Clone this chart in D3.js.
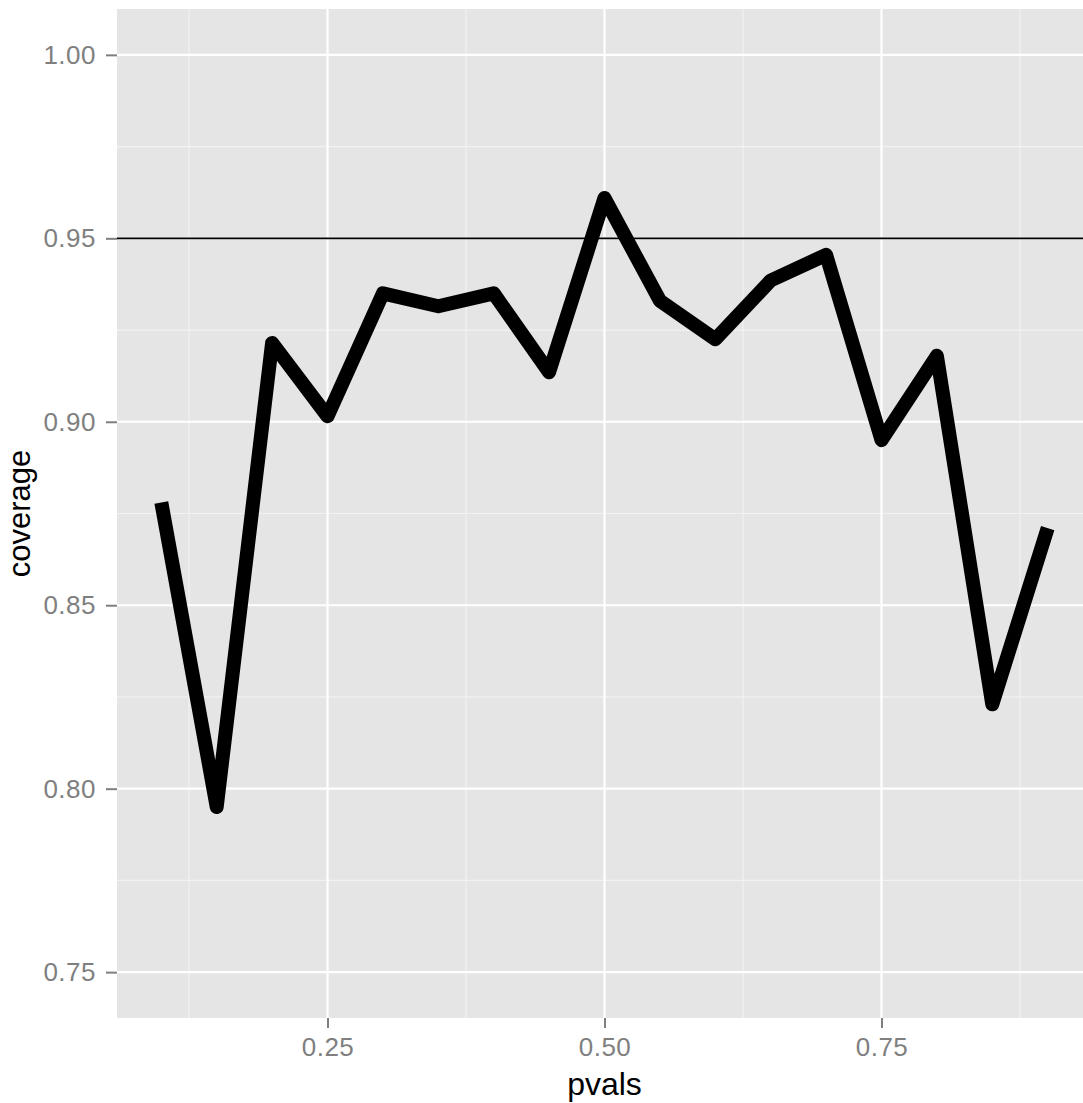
<!DOCTYPE html>
<html>
<head>
<meta charset="utf-8">
<script src="https://cdnjs.cloudflare.com/ajax/libs/d3/7.8.5/d3.min.js"></script>
<style>
  html, body { margin: 0; padding: 0; background: #ffffff; }
  svg { display: block; }
</style>
</head>
<body>
<script>
// ---- data ----
const pvals = [0.10, 0.15, 0.20, 0.25, 0.30, 0.35, 0.40, 0.45, 0.50, 0.55, 0.60, 0.65, 0.70, 0.75, 0.80, 0.85, 0.90];
const coverage = [0.878, 0.795, 0.9215, 0.9015, 0.935, 0.9315, 0.935, 0.9135, 0.961, 0.933, 0.9225, 0.9385, 0.9455, 0.895, 0.918, 0.823, 0.871];
const refLine = 0.95;
const xTicks = [0.25, 0.50, 0.75];
const xMinor = [0.125, 0.375, 0.625, 0.875];
const yTicks = [0.75, 0.80, 0.85, 0.90, 0.95, 1.00];
const yMinor = [0.775, 0.825, 0.875, 0.925, 0.975];
const xLabel = "pvals";
const yLabel = "coverage";

const W = 1083, H = 1103;
const panel = { left: 117, right: 1092, top: 9, bottom: 1018 };

const x = d3.scaleLinear().domain([0.06, 0.94]).range([panel.left, panel.right]);
const y = d3.scaleLinear().domain([0.7375, 1.0125]).range([panel.bottom, panel.top]);

const svg = d3.select("body").append("svg")
  .attr("width", W).attr("height", H);

// panel background
svg.append("rect")
  .attr("x", panel.left).attr("y", panel.top)
  .attr("width", panel.right - panel.left).attr("height", panel.bottom - panel.top)
  .attr("fill", "#E5E5E5");

const grid = svg.append("g");
// minor grid
grid.selectAll("line.xminor").data(xMinor).enter().append("line")
  .attr("x1", d => x(d)).attr("x2", d => x(d))
  .attr("y1", panel.top).attr("y2", panel.bottom)
  .attr("stroke", "#F2F2F2").attr("stroke-width", 1.2);
grid.selectAll("line.yminor").data(yMinor).enter().append("line")
  .attr("y1", d => y(d)).attr("y2", d => y(d))
  .attr("x1", panel.left).attr("x2", panel.right)
  .attr("stroke", "#F2F2F2").attr("stroke-width", 1.2);
// major grid
grid.selectAll("line.xmajor").data(xTicks).enter().append("line")
  .attr("x1", d => x(d)).attr("x2", d => x(d))
  .attr("y1", panel.top).attr("y2", panel.bottom)
  .attr("stroke", "#FFFFFF").attr("stroke-width", 2.2);
grid.selectAll("line.ymajor").data(yTicks).enter().append("line")
  .attr("y1", d => y(d)).attr("y2", d => y(d))
  .attr("x1", panel.left).attr("x2", panel.right)
  .attr("stroke", "#FFFFFF").attr("stroke-width", 2.2);

// reference line
svg.append("line")
  .attr("x1", panel.left).attr("x2", panel.right)
  .attr("y1", y(refLine)).attr("y2", y(refLine))
  .attr("stroke", "#000000").attr("stroke-width", 1.8);

// data line
const data = pvals.map((p, i) => ({ p, c: coverage[i] }));
svg.append("path")
  .datum(data)
  .attr("fill", "none")
  .attr("stroke", "#000000")
  .attr("stroke-width", 14)
  .attr("stroke-linejoin", "round")
  .attr("stroke-linecap", "butt")
  .attr("d", d3.line().x(d => x(d.p)).y(d => y(d.c)));

// axes
const fmt = d3.format(".2f");
const xAxis = d3.axisBottom(x).tickValues(xTicks).tickFormat(fmt).tickSize(10).tickPadding(5);
const yAxis = d3.axisLeft(y).tickValues(yTicks).tickFormat(fmt).tickSize(11).tickPadding(10);

const gx = svg.append("g").attr("transform", `translate(0,${panel.bottom})`).call(xAxis);
const gy = svg.append("g").attr("transform", `translate(${panel.left},0)`).call(yAxis);
[gx, gy].forEach(g => {
  g.select(".domain").remove();
  g.selectAll(".tick line").attr("stroke", "#7F7F7F").attr("stroke-width", 2);
  g.selectAll(".tick text")
    .attr("fill", "#7F7F7F")
    .style("font-family", "Arial, 'Liberation Sans', sans-serif")
    .style("font-size", "26px")
    .style("letter-spacing", "0.5px");
});
gx.selectAll(".tick text").attr("dy", "0.9em");

// axis titles
svg.append("text")
  .attr("x", (panel.left + panel.right) / 2)
  .attr("y", 1095)
  .attr("text-anchor", "middle")
  .style("font-family", "Arial, 'Liberation Sans', sans-serif")
  .style("font-size", "32px")
  .attr("fill", "#000000")
  .text(xLabel);

svg.append("text")
  .attr("transform", `translate(30,${(panel.top + panel.bottom) / 2}) rotate(-90)`)
  .attr("text-anchor", "middle")
  .style("font-family", "Arial, 'Liberation Sans', sans-serif")
  .style("font-size", "31px")
  .attr("fill", "#000000")
  .text(yLabel);
</script>
</body>
</html>
